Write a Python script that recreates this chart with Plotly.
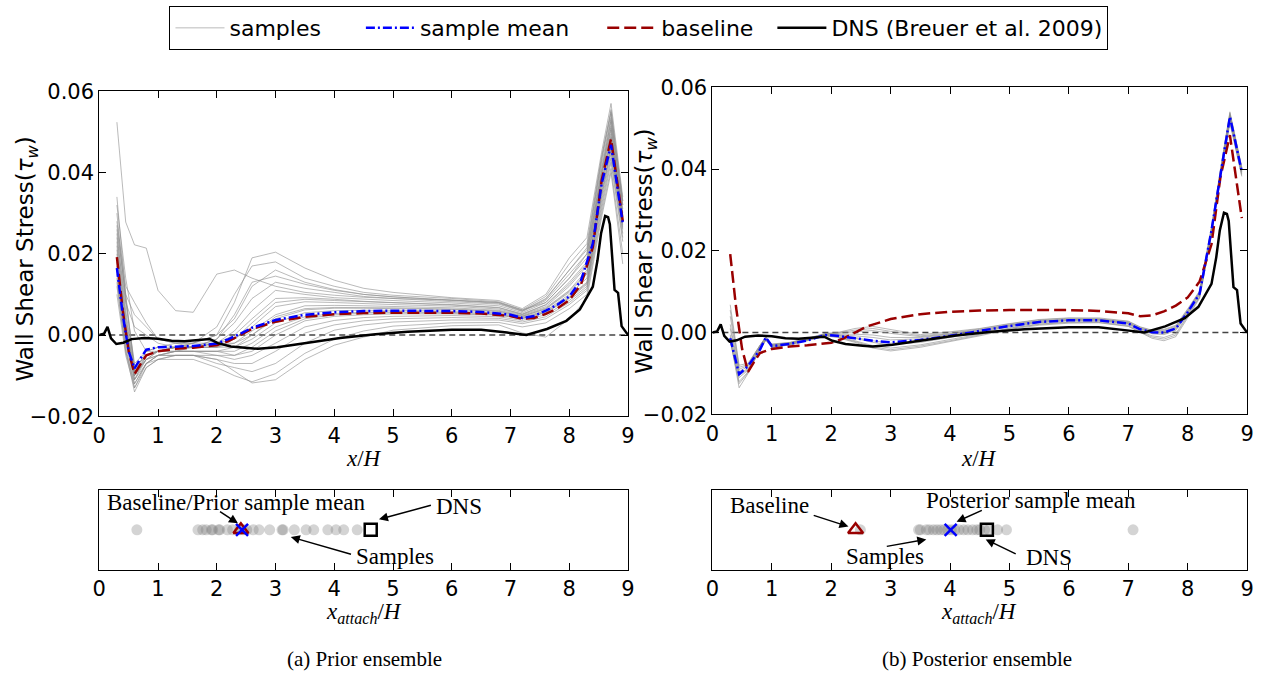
import plotly.graph_objects as go

# ---------------- data ----------------
# DNS (Breuer et al. 2009) wall shear stress
dns_x = [0, 0.08, 0.14, 0.2, 0.29, 0.41, 0.55, 0.77, 1.0, 1.23, 1.45, 1.68, 1.88, 2.02, 2.24, 2.53, 2.7,
         3.03, 3.5, 4.1, 4.7, 5.25, 6.0, 6.5, 6.94, 7.27, 7.62, 7.95, 8.18, 8.40, 8.48, 8.54, 8.61, 8.66,
         8.69, 8.73, 8.77, 8.83, 8.86, 8.89, 9.0]
dns_y = [0, 0.0003, 0.002, -0.0008, -0.0022, -0.0019, -0.001, -0.0007, -0.0009, -0.0014, -0.0015, -0.0012,
         -0.001, -0.002, -0.0028, -0.0032, -0.0034, -0.003, -0.002, -0.0007, 0.0002, 0.0008, 0.0013, 0.0013,
         0.0006, 0.0, 0.0015, 0.0035, 0.0063, 0.0119, 0.0184, 0.025, 0.0293, 0.0290, 0.0273, 0.020, 0.0111,
         0.0104, 0.0055, 0.0022, 0.0]

# baseline (same in both panels)
base_x = [0.3, 0.4, 0.5, 0.6, 0.7, 0.8, 1.0, 1.3, 1.6, 2.0, 2.2, 2.4, 2.6, 3.0, 3.5, 4.0, 4.5, 5.0, 5.5,
          6.0, 6.5, 7.0, 7.2, 7.4, 7.6, 7.8, 8.0, 8.2, 8.4, 8.55, 8.71, 8.91]
base_y = [0.0192, 0.0060, -0.0040, -0.0096, -0.0072, -0.0050, -0.0040, -0.0034, -0.0031, -0.0025, -0.0015,
          0.0000, 0.0015, 0.0033, 0.0045, 0.0051, 0.0054, 0.0055, 0.0055, 0.0055, 0.0053, 0.0047, 0.0040,
          0.0042, 0.0052, 0.0066, 0.0086, 0.0125, 0.0216, 0.0380, 0.0483, 0.0280]

# prior sample mean (on the baseline grid)
prior_mean_y = [0.0165, 0.0050, -0.0040, -0.0082, -0.0058, -0.0036, -0.0030, -0.0029, -0.0027, -0.0021,
                -0.0010, 0.0003, 0.0018, 0.0037, 0.0050, 0.0056, 0.0059, 0.0060, 0.0060, 0.0059, 0.0057,
                0.0050, 0.0042, 0.0047, 0.0060, 0.0075, 0.0095, 0.0135, 0.0225, 0.0372, 0.0468, 0.0275]

# prior samples
prior_x = [0.3, 0.45, 0.6, 0.8, 1.0, 1.3, 1.6, 2.0, 2.3, 2.6, 3.0, 3.5, 4.0, 4.5, 5.0, 6.0, 6.8, 7.2, 7.6,
           8.0, 8.3, 8.55, 8.71, 8.91]
prior_samples = [
    [0.0524, 0.0278, 0.0222, 0.0214, 0.0110, 0.0060, 0.0056, 0.0150, 0.0160, 0.0140, 0.0120, 0.0105, 0.0098, 0.0093, 0.0090, 0.0086, 0.0080, 0.0062, 0.0080, 0.0140, 0.0200, 0.0400, 0.0530, 0.0320],
    [0.0300, 0.0080, -0.0070, -0.0040, -0.0030, -0.0020, -0.0020, 0.0000, 0.0080, 0.0190, 0.0204, 0.0165, 0.0135, 0.0115, 0.0105, 0.0092, 0.0085, 0.0065, 0.0100, 0.0190, 0.0240, 0.0450, 0.0570, 0.0340],
    [0.0250, 0.0060, -0.0080, -0.0050, -0.0040, -0.0030, -0.0020, 0.0020, 0.0100, 0.0170, 0.0180, 0.0140, 0.0120, 0.0105, 0.0098, 0.0090, 0.0082, 0.0062, 0.0095, 0.0175, 0.0225, 0.0440, 0.0550, 0.0330],
    [0.0340, 0.0100, -0.0090, -0.0040, -0.0030, -0.0030, -0.0020, 0.0000, 0.0040, 0.0120, 0.0160, 0.0130, 0.0112, 0.0100, 0.0094, 0.0087, 0.0080, 0.0060, 0.0090, 0.0160, 0.0210, 0.0430, 0.0545, 0.0320],
    [0.0220, 0.0040, -0.0100, -0.0050, -0.0040, -0.0030, -0.0030, -0.0010, 0.0030, 0.0090, 0.0130, 0.0115, 0.0105, 0.0095, 0.0090, 0.0083, 0.0076, 0.0058, 0.0085, 0.0150, 0.0200, 0.0420, 0.0535, 0.0310],
    [0.0200, 0.0020, -0.0110, -0.0060, -0.0040, -0.0030, -0.0030, -0.0020, 0.0010, 0.0060, 0.0110, 0.0100, 0.0092, 0.0088, 0.0085, 0.0079, 0.0072, 0.0055, 0.0080, 0.0140, 0.0190, 0.0410, 0.0525, 0.0300],
    [0.0180, 0.0010, -0.0100, -0.0060, -0.0040, -0.0040, -0.0030, -0.0020, 0.0000, 0.0040, 0.0090, 0.0092, 0.0088, 0.0083, 0.0080, 0.0075, 0.0068, 0.0052, 0.0075, 0.0130, 0.0180, 0.0400, 0.0515, 0.0295],
    [0.0160, 0.0000, -0.0110, -0.0050, -0.0040, -0.0030, -0.0030, -0.0020, -0.0010, 0.0020, 0.0070, 0.0082, 0.0080, 0.0077, 0.0075, 0.0071, 0.0064, 0.0050, 0.0070, 0.0120, 0.0170, 0.0390, 0.0505, 0.0290],
    [0.0280, 0.0120, 0.0080, 0.0030, -0.0010, -0.0020, -0.0020, -0.0020, -0.0020, 0.0010, 0.0050, 0.0072, 0.0073, 0.0072, 0.0070, 0.0067, 0.0061, 0.0048, 0.0067, 0.0110, 0.0160, 0.0380, 0.0495, 0.0285],
    [0.0260, 0.0100, 0.0050, 0.0020, -0.0010, -0.0020, -0.0030, -0.0030, -0.0020, 0.0000, 0.0040, 0.0062, 0.0066, 0.0066, 0.0065, 0.0063, 0.0058, 0.0046, 0.0064, 0.0105, 0.0150, 0.0370, 0.0485, 0.0280],
    [0.0240, 0.0080, 0.0020, 0.0000, -0.0020, -0.0030, -0.0030, -0.0030, -0.0030, -0.0010, 0.0030, 0.0055, 0.0060, 0.0061, 0.0061, 0.0059, 0.0055, 0.0044, 0.0060, 0.0100, 0.0140, 0.0360, 0.0475, 0.0275],
    [0.0150, -0.0020, -0.0120, -0.0070, -0.0050, -0.0040, -0.0040, -0.0040, -0.0040, -0.0020, 0.0020, 0.0045, 0.0053, 0.0056, 0.0057, 0.0056, 0.0052, 0.0042, 0.0058, 0.0095, 0.0130, 0.0350, 0.0465, 0.0270],
    [0.0140, -0.0030, -0.0130, -0.0070, -0.0050, -0.0040, -0.0040, -0.0040, -0.0050, -0.0040, 0.0000, 0.0035, 0.0046, 0.0050, 0.0052, 0.0052, 0.0049, 0.0040, 0.0055, 0.0090, 0.0125, 0.0340, 0.0455, 0.0260],
    [0.0190, 0.0020, -0.0090, -0.0060, -0.0050, -0.0040, -0.0040, -0.0050, -0.0060, -0.0050, -0.0020, 0.0020, 0.0036, 0.0043, 0.0046, 0.0048, 0.0045, 0.0036, 0.0050, 0.0085, 0.0120, 0.0330, 0.0445, 0.0250],
    [0.0210, 0.0030, -0.0100, -0.0060, -0.0050, -0.0050, -0.0050, -0.0060, -0.0070, -0.0070, -0.0040, 0.0005, 0.0025, 0.0035, 0.0040, 0.0043, 0.0041, 0.0032, 0.0045, 0.0080, 0.0115, 0.0320, 0.0435, 0.0240],
    [0.0170, 0.0000, -0.0110, -0.0070, -0.0060, -0.0050, -0.0050, -0.0070, -0.0080, -0.0090, -0.0070, -0.0020, 0.0012, 0.0025, 0.0032, 0.0037, 0.0037, 0.0028, 0.0040, 0.0075, 0.0110, 0.0310, 0.0425, 0.0230],
    [0.0130, -0.0040, -0.0140, -0.0080, -0.0060, -0.0060, -0.0060, -0.0080, -0.0100, -0.0115, -0.0095, -0.0045, -0.0010, 0.0010, 0.0022, 0.0030, 0.0031, 0.0020, 0.0030, 0.0065, 0.0100, 0.0300, 0.0410, 0.0200],
    [0.0120, -0.0040, -0.0120, -0.0070, -0.0050, -0.0050, -0.0050, -0.0060, -0.0090, -0.0118, -0.0110, -0.0060, -0.0025, -0.0005, 0.0012, 0.0023, 0.0025, 0.0005, -0.0005, 0.0040, 0.0090, 0.0290, 0.0400, 0.0175],
    [0.0320, 0.0140, 0.0010, -0.0040, -0.0040, -0.0030, -0.0030, -0.0010, 0.0050, 0.0130, 0.0145, 0.0125, 0.0110, 0.0100, 0.0094, 0.0086, 0.0078, 0.0059, 0.0088, 0.0160, 0.0215, 0.0435, 0.0555, 0.0330],
    [0.0100, -0.0050, -0.0130, -0.0080, -0.0060, -0.0050, -0.0050, -0.0050, -0.0050, -0.0030, 0.0010, 0.0040, 0.0050, 0.0054, 0.0055, 0.0054, 0.0050, 0.0041, 0.0056, 0.0092, 0.0128, 0.0345, 0.0460, 0.0265],
    [0.0270, 0.0090, -0.0080, -0.0050, -0.0040, -0.0030, -0.0030, -0.0030, -0.0010, 0.0030, 0.0080, 0.0088, 0.0085, 0.0082, 0.0079, 0.0074, 0.0067, 0.0051, 0.0074, 0.0125, 0.0175, 0.0395, 0.0510, 0.0292],
    [0.0230, 0.0050, -0.0090, -0.0050, -0.0040, -0.0040, -0.0040, -0.0040, -0.0030, 0.0000, 0.0045, 0.0065, 0.0068, 0.0068, 0.0067, 0.0064, 0.0059, 0.0046, 0.0065, 0.0108, 0.0152, 0.0372, 0.0488, 0.0282],
]

# posterior samples and mean
post_x = [0.3, 0.45, 0.6, 0.8, 0.9, 1.0, 1.3, 1.6, 1.9, 2.1, 2.4, 2.7, 3.0, 3.5, 4.0, 4.5, 5.0, 5.5, 6.0, 6.5,
          7.0, 7.2, 7.4, 7.6, 7.8, 8.0, 8.2, 8.4, 8.55, 8.71, 8.91]
post_mean_y = [-0.0014, -0.0102, -0.0082, -0.0042, -0.0012, -0.0033, -0.0028, -0.0019, -0.0006, -0.0008,
               -0.0014, -0.0020, -0.0024, -0.0018, -0.0008, 0.0004, 0.0016, 0.0026, 0.0030, 0.0030, 0.0022,
               0.0008, 0.0001, 0.0000, 0.0010, 0.0050, 0.0095, 0.0250, 0.0390, 0.0528, 0.0394]
post_samples = [
    [0.0068, -0.0080, -0.0075, -0.0030, -0.0010, -0.0028, -0.0024, -0.0014, -0.0002, 0.0000, 0.0010, 0.0015, 0.0008, -0.0005, 0.0002, 0.0010, 0.0022, 0.0032, 0.0036, 0.0036, 0.0028, 0.0014, 0.0006, 0.0008, 0.0018, 0.0058, 0.0102, 0.0258, 0.0398, 0.0540, 0.0405],
    [0.0040, -0.0090, -0.0080, -0.0032, -0.0012, -0.0030, -0.0025, -0.0015, -0.0003, -0.0002, 0.0002, 0.0005, -0.0002, -0.0010, -0.0003, 0.0007, 0.0019, 0.0029, 0.0033, 0.0033, 0.0025, 0.0011, 0.0004, 0.0004, 0.0014, 0.0054, 0.0099, 0.0254, 0.0394, 0.0534, 0.0400],
    [0.0010, -0.0100, -0.0088, -0.0035, -0.0015, -0.0032, -0.0027, -0.0017, -0.0005, -0.0006, -0.0008, -0.0012, -0.0018, -0.0015, -0.0006, 0.0004, 0.0017, 0.0027, 0.0031, 0.0031, 0.0023, 0.0009, 0.0001, 0.0000, 0.0010, 0.0050, 0.0096, 0.0250, 0.0390, 0.0530, 0.0396],
    [-0.0010, -0.0110, -0.0092, -0.0038, -0.0016, -0.0034, -0.0028, -0.0018, -0.0006, -0.0008, -0.0014, -0.0024, -0.0030, -0.0024, -0.0012, 0.0000, 0.0014, 0.0024, 0.0029, 0.0029, 0.0021, 0.0006, -0.0003, -0.0005, 0.0005, 0.0046, 0.0092, 0.0246, 0.0386, 0.0525, 0.0392],
    [-0.0020, -0.0120, -0.0096, -0.0040, -0.0018, -0.0036, -0.0029, -0.0019, -0.0007, -0.0010, -0.0020, -0.0032, -0.0038, -0.0030, -0.0017, -0.0004, 0.0011, 0.0021, 0.0026, 0.0027, 0.0018, 0.0003, -0.0008, -0.0012, -0.0002, 0.0042, 0.0088, 0.0242, 0.0382, 0.0520, 0.0388],
    [-0.0015, -0.0135, -0.0100, -0.0042, -0.0019, -0.0037, -0.0030, -0.0020, -0.0008, -0.0012, -0.0024, -0.0038, -0.0045, -0.0036, -0.0022, -0.0008, 0.0008, 0.0018, 0.0023, 0.0024, 0.0015, 0.0000, -0.0014, -0.0020, -0.0010, 0.0036, 0.0084, 0.0238, 0.0378, 0.0512, 0.0382],
    [0.0020, -0.0095, -0.0083, -0.0033, -0.0013, -0.0031, -0.0026, -0.0016, -0.0004, -0.0004, -0.0004, -0.0006, -0.0012, -0.0012, -0.0004, 0.0006, 0.0018, 0.0028, 0.0032, 0.0032, 0.0024, 0.0010, 0.0002, 0.0002, 0.0012, 0.0052, 0.0097, 0.0252, 0.0392, 0.0532, 0.0398],
    [-0.0005, -0.0105, -0.0090, -0.0036, -0.0015, -0.0033, -0.0027, -0.0017, -0.0005, -0.0007, -0.0012, -0.0020, -0.0026, -0.0021, -0.0010, 0.0002, 0.0015, 0.0025, 0.0030, 0.0030, 0.0022, 0.0007, -0.0001, -0.0002, 0.0008, 0.0048, 0.0094, 0.0248, 0.0388, 0.0527, 0.0394],
    [-0.0018, -0.0125, -0.0098, -0.0041, -0.0018, -0.0036, -0.0029, -0.0019, -0.0007, -0.0011, -0.0022, -0.0035, -0.0042, -0.0033, -0.0020, -0.0006, 0.0010, 0.0020, 0.0025, 0.0025, 0.0016, 0.0001, -0.0011, -0.0016, -0.0006, 0.0039, 0.0086, 0.0240, 0.0380, 0.0516, 0.0385],
    [0.0055, -0.0085, -0.0078, -0.0031, -0.0011, -0.0029, -0.0025, -0.0015, -0.0003, -0.0001, 0.0006, 0.0010, 0.0003, -0.0008, -0.0001, 0.0009, 0.0021, 0.0031, 0.0035, 0.0034, 0.0027, 0.0013, 0.0005, 0.0006, 0.0016, 0.0056, 0.0100, 0.0256, 0.0396, 0.0537, 0.0403],
]

# reattachment points x_attach/H
prior_attach = [0.64, 1.68, 1.76, 1.82, 1.91, 1.93, 2.03, 2.05, 2.18, 2.27, 2.39, 2.45, 2.51, 2.62, 2.72,
                2.90, 3.11, 3.13, 3.32, 3.52, 3.65, 3.89, 4.03, 4.16, 4.39]
post_attach = [2.49, 3.47, 3.50, 3.60, 3.65, 3.72, 3.78, 3.84, 3.90, 3.96, 4.02, 4.08, 4.15, 4.23, 4.30,
               4.38, 4.45, 4.50, 4.58, 4.65, 4.80, 4.95, 7.08]
prior_mean_attach = 2.43
post_mean_attach = 4.01
base_attach = 2.41
dns_attach = 4.62

x_ticks = [0, 1, 2, 3, 4, 5, 6, 7, 8, 9]
y_ticks = [-0.02, 0.00, 0.02, 0.04, 0.06]

# ---------------- styles ----------------
GRAY = "rgba(140,140,140,0.6)"
BLUE = "#0000ff"
RED = "#990000"
SANS = "DejaVu Sans"
SERIF = "Liberation Serif"
W, H = 1271, 681
NB = "\u00a0"

# screen pixel -> paper fraction (the drawable area observed spans x 2..1269, y 9..672)
AX0, AXW = 2.0, 1267.0
AY0, AYH = 9.0, 663.0


def PX(X):
    return (X - AX0) / AXW


def PY(Y):
    return 1 - (Y - AY0) / AYH


fig = go.Figure()


def add_panel(xa, ya, samples, sx, mean_x, mean_y, show):
    for i, s in enumerate(samples):
        fig.add_trace(go.Scatter(x=sx, y=s, mode="lines", line=dict(color=GRAY, width=1),
                                 xaxis=xa, yaxis=ya, name="samples" + NB * 5, legendgroup="samples",
                                 showlegend=(show and i == 0), legendrank=1, hoverinfo="skip"))
    fig.add_trace(go.Scatter(x=base_x, y=base_y, mode="lines", line=dict(color=RED, width=2.5, dash="12px,5px"),
                             xaxis=xa, yaxis=ya, name="baseline" + NB * 2, legendgroup="baseline",
                             showlegend=show, legendrank=3))
    fig.add_trace(go.Scatter(x=mean_x, y=mean_y, mode="lines",
                             line=dict(color=BLUE, width=2.5, dash="9px,3px,2px,3px"),
                             xaxis=xa, yaxis=ya, name="sample mean" + NB * 4, legendgroup="mean",
                             showlegend=show, legendrank=2))
    fig.add_trace(go.Scatter(x=dns_x, y=dns_y, mode="lines", line=dict(color="black", width=2.5),
                             xaxis=xa, yaxis=ya, name="DNS (Breuer et al. 2009)", legendgroup="dns",
                             showlegend=show, legendrank=4))


add_panel("x", "y", prior_samples, prior_x, base_x, prior_mean_y, True)
add_panel("x2", "y2", post_samples, post_x, post_x, post_mean_y, False)


def add_strip(xa, ya, attach, mean_a):
    fig.add_trace(go.Scatter(x=attach, y=[0.5] * len(attach), mode="markers",
                             marker=dict(size=11, color="rgba(120,120,120,0.32)", line=dict(width=0)),
                             xaxis=xa, yaxis=ya, showlegend=False))
    fig.add_trace(go.Scatter(x=[base_attach], y=[0.5], mode="markers",
                             marker=dict(symbol="triangle-up-open", size=13, color=RED, line=dict(width=2.5, color=RED)),
                             xaxis=xa, yaxis=ya, showlegend=False))
    fig.add_trace(go.Scatter(x=[mean_a], y=[0.5], mode="markers",
                             marker=dict(symbol="x-thin-open", size=12, color=BLUE, line=dict(width=2.5, color=BLUE)),
                             xaxis=xa, yaxis=ya, showlegend=False))
    fig.add_trace(go.Scatter(x=[dns_attach], y=[0.5], mode="markers",
                             marker=dict(symbol="square-open", size=12, color="black", line=dict(width=2.5, color="black")),
                             xaxis=xa, yaxis=ya, showlegend=False))


add_strip("x3", "y3", prior_attach, prior_mean_attach)
add_strip("x4", "y4", post_attach, post_mean_attach)

# ---------------- axes ----------------
tickfont = dict(family=SANS, size=21, color="black")
axis_common = dict(showline=True, linecolor="black", linewidth=1, mirror="allticks", ticks="inside",
                   ticklen=7, tickcolor="black", showgrid=False, zeroline=False, tickfont=tickfont)


def fx(a, b):
    return [PX(a), PX(b)]


def fy(top, bottom):
    return [PY(bottom), PY(top)]


fig.update_layout(
    xaxis=dict(domain=fx(95, 628), range=[0, 9], tickvals=x_ticks, anchor="y", **axis_common),
    yaxis=dict(domain=fy(89, 417), range=[-0.02, 0.06], tickvals=y_ticks, tickformat=".2f", anchor="x", **axis_common),
    xaxis2=dict(domain=fx(713, 1252), range=[0, 9], tickvals=x_ticks, anchor="y2", **axis_common),
    yaxis2=dict(domain=fy(85, 415), range=[-0.02, 0.06], tickvals=y_ticks, tickformat=".2f", anchor="x2", **axis_common),
    xaxis3=dict(domain=fx(95, 628), range=[0, 9], tickvals=x_ticks, anchor="y3", **axis_common),
    yaxis3=dict(domain=fy(491, 572), range=[0, 1], anchor="x3", showline=True, linecolor="black",
                linewidth=1, mirror=True, ticks="", showticklabels=False, showgrid=False, zeroline=False),
    xaxis4=dict(domain=fx(713, 1252), range=[0, 9], tickvals=x_ticks, anchor="y4", **axis_common),
    yaxis4=dict(domain=fy(491, 572), range=[0, 1], anchor="x4", showline=True, linecolor="black",
                linewidth=1, mirror=True, ticks="", showticklabels=False, showgrid=False, zeroline=False),
)

# zero reference lines
for xr, yr in (("x", "y"), ("x2", "y2")):
    fig.add_shape(type="line", xref=xr, yref=yr, x0=0, x1=9, y0=0, y1=0,
                  line=dict(color="#444444", width=1.5, dash="6px,4px"), layer="below")

ann = []


def paper_text(text, px, py, font, angle=0):
    ann.append(dict(text=text, x=PX(px), y=PY(py), xref="paper", yref="paper", textangle=angle,
                    xanchor="center", yanchor="middle", showarrow=False, font=font))


ytitle = "Wall Shear Stress(<i>τ</i><sub><i>w</i></sub>)"
tfont = dict(family=SANS, size=23, color="black")
paper_text(ytitle, 22, 258, tfont, -90)
paper_text(ytitle, 646, 250, tfont, -90)
lfont = dict(family=SERIF, size=23, color="black")
for cx in (362, 982):
    paper_text("<i>x</i>/<i>H</i>", cx, 460, lfont)
    paper_text("<i>x<sub>attach</sub></i>/<i>H</i>", cx, 615, lfont)
cfont = dict(family=SERIF, size=21, color="black")
paper_text("(a) Prior ensemble", 362, 662, cfont)
paper_text("(b) Posterior ensemble", 980, 662, cfont)

sfont = dict(family=SERIF, size=23, color="black")


def label(xr, yr, text, x, y):
    ann.append(dict(text=text, x=x, y=y, xref=xr, yref=yr, xanchor="center", yanchor="middle",
                    showarrow=False, font=sfont))


def arrow(xr, yr, tail, tip):
    ann.append(dict(text="", x=tip[0], y=tip[1], ax=tail[0], ay=tail[1], xref=xr, yref=yr,
                    axref=xr, ayref=yr, showarrow=True, arrowhead=2, arrowsize=1.2, arrowwidth=1.5,
                    arrowcolor="black", standoff=0, startstandoff=0))


label("x3", "y3", "Baseline/Prior sample mean", 2.33, 0.84)
arrow("x3", "y3", (2.03, 0.74), (2.36, 0.58))
label("x3", "y3", "DNS", 6.13, 0.79)
arrow("x3", "y3", (5.67, 0.81), (4.76, 0.63))
label("x3", "y3", "Samples", 5.04, 0.17)
arrow("x3", "y3", (4.31, 0.19), (3.26, 0.41))

label("x4", "y4", "Baseline", 0.96, 0.80)
arrow("x4", "y4", (1.68, 0.685), (2.29, 0.54))
label("x4", "y4", "Posterior sample mean", 5.37, 0.86)
arrow("x4", "y4", (4.56, 0.75), (4.11, 0.60))
label("x4", "y4", "Samples", 2.91, 0.17)
arrow("x4", "y4", (2.91, 0.29), (3.60, 0.38))
label("x4", "y4", "DNS", 5.67, 0.16)
arrow("x4", "y4", (5.13, 0.19), (4.60, 0.38))

fig.update_layout(
    annotations=ann,
    width=W, height=H,
    margin=dict(l=0, r=0, t=0, b=0),
    paper_bgcolor="white", plot_bgcolor="white",
    showlegend=True,
    legend=dict(orientation="h", x=PX(639), xanchor="center", y=PY(3), yanchor="top",
                bordercolor="black", borderwidth=1, bgcolor="white",
                font=dict(family=SANS, size=22, color="black"), itemwidth=49,
                traceorder="normal"),
)

fig.write_html("out.html")
